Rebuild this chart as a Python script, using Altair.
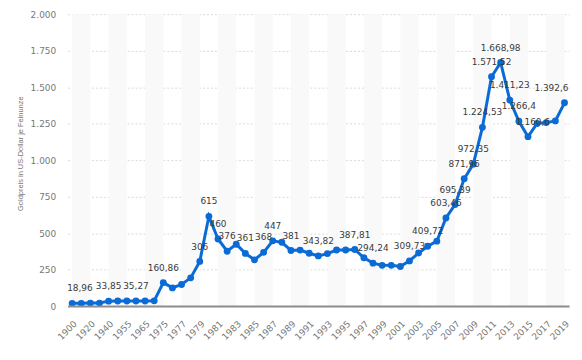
import altair as alt
import pandas as pd

years = ["1900", "1910", "1920", "1930", "1940", "1950", "1955", "1960", "1965", "1970",
         "1975", "1976", "1977", "1978", "1979", "1980", "1981", "1982", "1983", "1984",
         "1985", "1986", "1987", "1988", "1989", "1990", "1991", "1992", "1993", "1994",
         "1995", "1996", "1997", "1998", "1999", "2000", "2001", "2002", "2003", "2004",
         "2005", "2006", "2007", "2008", "2009", "2010", "2011", "2012", "2013", "2014",
         "2015", "2016", "2017", "2018", "2019"]
prices = [18.96, 18.96, 20.68, 20.65, 33.85, 34.72, 35.03, 35.27, 35.12, 36.02,
          160.86, 124.74, 147.84, 193.4, 306, 615, 460, 376, 424, 361,
          317, 368, 447, 437, 381, 383.51, 362.11, 343.82, 359.77, 384.0,
          384.17, 387.81, 331.02, 294.24, 278.98, 279.11, 271.04, 309.73, 363.38, 409.72,
          444.74, 603.46, 695.39, 871.96, 972.35, 1224.53, 1571.52, 1668.98, 1411.23, 1266.4,
          1160.6, 1250.74, 1257.12, 1268.49, 1392.6]
labels_center = ["1940", "1960", "1975", "1979", "1980", "1981", "1982", "1984", "1986",
                 "1987", "1989", "1992", "1996", "1998", "2002", "2004", "2006", "2007",
                 "2008", "2009", "2010", "2011", "2012", "2013", "2014"]
labels_left = ["1900"]
labels_right = ["2019"]
labels_shift = ["2015"]
y_ticks = [0, 250, 500, 750, 1000, 1250, 1500, 1750, 2000]

W, H = 505, 294
BLUE = "#0a6bd6"
FONT = "DejaVu Sans"


def de(v):
    s = f"{v:,.2f}".rstrip("0").rstrip(".")
    return s.replace(",", "X").replace(".", ",").replace("X", ".")


df = pd.DataFrame({"year": years, "price": prices})
df["label"] = [de(v) for v in prices]

bands = pd.DataFrame({"start": years[0::4], "end": years[2::4]})

xscale = alt.Scale(type="point", domain=years, padding=0.5)
yscale = alt.Scale(domain=[0, 2000], nice=False)

x_axis = alt.Axis(title=None, values=years[0::2], labelAngle=-45,
                  labelAlign="right", labelBaseline="top", labelPadding=13,
                  labelColor="#777777", labelFontSize=9, labelFont=FONT,
                  labelOverlap=False, ticks=False, tickSize=0,
                  domainColor="#8c8c8c", domainWidth=2, grid=False)
x_enc = alt.X("year:O", scale=xscale, sort=None, axis=x_axis)
y_enc = alt.Y("price:Q", scale=yscale,
              axis=alt.Axis(title="Goldpreis in US-Dollar je Feinunze", values=y_ticks,
                            labelExpr="replace(format(datum.value, ','), ',', '.')",
                            labelColor="#777777", labelFontSize=9, labelFont=FONT,
                            labelPadding=12, ticks=False, tickSize=0, domain=False,
                            grid=True, gridColor="#dadada", gridDash=[2, 2],
                            titleFont="Liberation Sans", titleFontSize=7.5,
                            titleFontWeight="normal", titleColor="#777777",
                            titleX=-47, titleY=140, titleBaseline="middle"))

band_layer = alt.Chart(bands).mark_rect(color="#f9f9f9").encode(
    x=alt.X("start:O", scale=xscale, sort=None, axis=x_axis),
    x2="end:O",
    y=alt.value(0),
    y2=alt.value(H),
)

base = alt.Chart(df).encode(x=x_enc, y=y_enc)
line = base.mark_line(color=BLUE, strokeWidth=3)
points = base.mark_circle(color=BLUE, size=48, opacity=1)

text_common = dict(font=FONT, fontSize=9, color="#3a3a3a", baseline="middle", dy=-15)
t_center = base.transform_filter(
    alt.FieldOneOfPredicate(field="year", oneOf=labels_center)
).mark_text(align="center", **text_common).encode(text="label:N")
t_left = base.transform_filter(
    alt.FieldOneOfPredicate(field="year", oneOf=labels_left)
).mark_text(align="left", dx=-5, **text_common).encode(text="label:N")
t_right = base.transform_filter(
    alt.FieldOneOfPredicate(field="year", oneOf=labels_right)
).mark_text(align="right", dx=4, **text_common).encode(text="label:N")
t_shift = base.transform_filter(
    alt.FieldOneOfPredicate(field="year", oneOf=labels_shift)
).mark_text(align="center", dx=5, **text_common).encode(text="label:N")

chart = alt.layer(band_layer, line, points, t_center, t_left, t_right, t_shift).properties(
    width=W, height=H,
    padding={"left": 60, "top": 5, "right": 5, "bottom": 40},
    autosize=alt.AutoSizeParams(type="none"),
).configure_view(stroke=None)

chart.save("out.html", embed_options={"renderer": "svg", "actions": False})
